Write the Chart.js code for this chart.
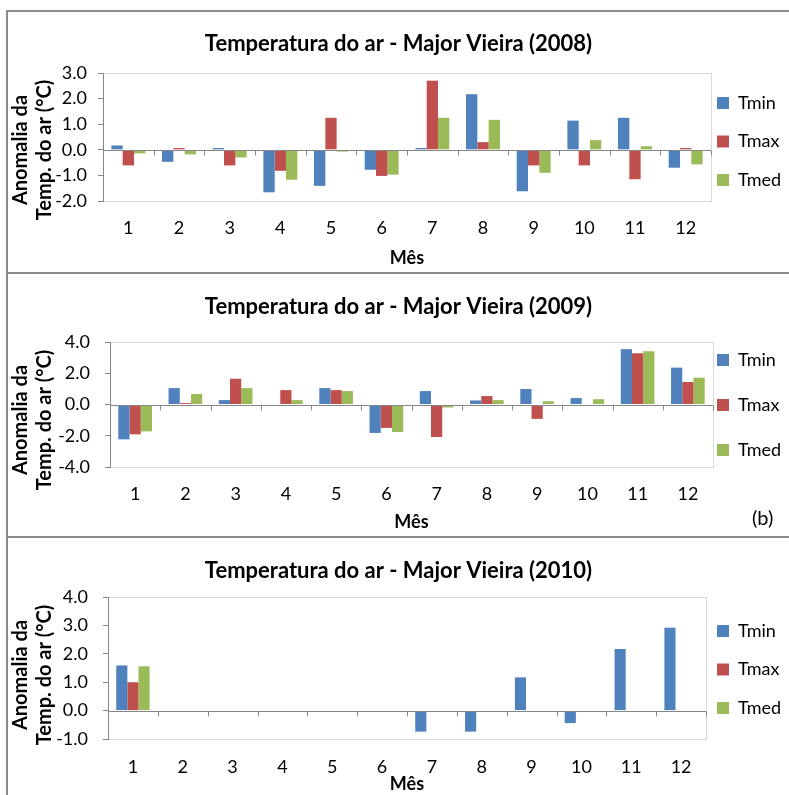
<!DOCTYPE html>
<html>
<head>
<meta charset="utf-8">
<script src="https://cdn.jsdelivr.net/npm/chart.js@4.4.1/dist/chart.umd.min.js"></script>
<style>
  body { margin: 0; background: #fff; width: 789px; height: 795px; overflow: hidden; position: relative; font-family: Lato, sans-serif; }
  .panel { position: absolute; left: 6px; width: 800px; box-sizing: border-box; border-top: 2px solid #8c8c8c; border-left: 2px solid #8c8c8c; }
  canvas { position: absolute; left: 8px; }
  #tag { position: absolute; left: 752px; top: 505px; font: 20px Lato, sans-serif; color: #000; }
</style>
</head>
<body>
<div class="panel" style="top:10px;height:262px"></div>
<div class="panel" style="top:272px;height:264px"></div>
<div class="panel" style="top:536px;height:300px"></div>
<canvas id="c2008" width="781" height="260" style="top:12px"></canvas>
<canvas id="c2009" width="781" height="262" style="top:274px"></canvas>
<canvas id="c2010" width="781" height="257" style="top:538px"></canvas>
<div id="tag">(b)</div>

<script>
// months on the category axis
const months = ['1', '2', '3', '4', '5', '6', '7', '8', '9', '10', '11', '12'];
const seriesNames = ['Tmin', 'Tmax', 'Tmed'];

// 2008 anomalies (°C)
const tmin2008 = [0.17, -0.47, 0.07, -1.66, -1.41, -0.78, 0.07, 2.17, -1.62, 1.14, 1.25, -0.70];
const tmax2008 = [-0.61, 0.07, -0.61, -0.82, 1.25, -1.02, 2.70, 0.30, -0.61, -0.61, -1.15, 0.07];
const tmed2008 = [-0.14, -0.18, -0.30, -1.17, -0.07, -0.97, 1.25, 1.17, -0.90, 0.38, 0.14, -0.57];

// 2009 anomalies (°C)
const tmin2009 = [-2.23, 1.05, 0.28, 0.00, 1.05, -1.82, 0.86, 0.26, 0.99, 0.41, 3.54, 2.36];
const tmax2009 = [-1.91, 0.09, 1.65, 0.92, 0.92, -1.50, -2.08, 0.54, -0.92, 0.00, 3.28, 1.44];
const tmed2009 = [-1.72, 0.67, 1.05, 0.28, 0.86, -1.76, -0.19, 0.28, 0.21, 0.34, 3.41, 1.72];

// 2010 anomalies (°C), only January has all three series
const tmin2010 = [1.59, null, null, null, null, null, -0.74, -0.74, 1.17, -0.44, 2.17, 2.92];
const tmax2010 = [1.00, null, null, null, null, null, null, null, null, null, null, null];
const tmed2010 = [1.56, null, null, null, null, null, null, null, null, null, null, null];

// y axis tick values
const ticks2008 = [-2, -1, 0, 1, 2, 3];
const ticks2009 = [-4, -2, 0, 2, 4];
const ticks2010 = [-1, 0, 1, 2, 3, 4];

const yTitleLines = ['Anomalia da', 'Temp. do ar (°C)'];
const colors = ['#4f81bd', '#c0504d', '#9bbb59'];
const FONT = 'Lato';

// light grey frame round the plot area
const plotFrame = {
  id: 'plotFrame',
  beforeDraw(chart) {
    const { ctx, chartArea: a } = chart;
    ctx.save();
    ctx.strokeStyle = '#d9d9d9';
    ctx.lineWidth = 1;
    ctx.strokeRect(a.left + 0.5, a.top + 0.5, a.right - a.left, a.bottom - a.top);
    ctx.restore();
  }
};

// category axis crossing at zero, with tick marks between months
const zeroAxis = {
  id: 'zeroAxis',
  afterDatasetsDraw(chart) {
    const { ctx } = chart;
    const x = chart.scales.x, y = chart.scales.y;
    const y0 = Math.round(y.getPixelForValue(0)) + 0.5;
    const n = x.getLabels().length;
    ctx.save();
    ctx.strokeStyle = '#868686';
    ctx.lineWidth = 1;
    ctx.beginPath();
    ctx.moveTo(x.left, y0);
    ctx.lineTo(x.right, y0);
    for (let k = 0; k <= n; k++) {
      const px = Math.round(x.left + k * (x.right - x.left) / n) + 0.5;
      ctx.moveTo(px, y0);
      ctx.lineTo(px, y0 + 5);
    }
    ctx.stroke();
    ctx.restore();
  }
};

// two-line rotated title of the value axis, a bit below the plot centre
const yTitle = {
  id: 'yTitle',
  afterDraw(chart, args, opts) {
    const { ctx, chartArea: a } = chart;
    ctx.save();
    ctx.translate(opts.x, (a.top + a.bottom) / 2 + opts.dy);
    ctx.rotate(-Math.PI / 2);
    ctx.font = 'bold 20px ' + FONT;
    ctx.fillStyle = '#000';
    ctx.textAlign = 'center';
    ctx.textBaseline = 'middle';
    yTitleLines.forEach((t, i) => ctx.fillText(t, 0, i * 24));
    ctx.restore();
  }
};

// move the legend next to the plot like in the spreadsheet
const legendPlace = {
  id: 'legendPlace',
  afterLayout(chart, args, opts) {
    const lg = chart.legend;
    const pad = lg.options.labels.padding;
    lg.left = opts.boxX - pad;
    lg.right = chart.width;
    lg.top += opts.dy;
    lg.bottom += opts.dy;
  }
};

function buildChart(id, year, tmin, tmax, tmed, yTicks, L) {
  const cv = document.getElementById(id);
  const W = cv.width, H = cv.height;
  const [aLeft, aTop, aRight, aBottom] = L.area;
  const titleLH = 22 * 1.2;
  const titleTop = L.titleCenter - titleLH / 2;
  const data = {
    labels: months,
    datasets: [tmin, tmax, tmed].map((vals, i) => ({
      label: seriesNames[i],
      data: vals,
      backgroundColor: colors[i],
      borderWidth: 0,
      categoryPercentage: 0.67,
      barPercentage: 1.0
    }))
  };
  return new Chart(cv, {
    type: 'bar',
    data: data,
    options: {
      responsive: false,
      animation: false,
      devicePixelRatio: 1,
      layout: { padding: 0 },
      plugins: {
        title: {
          display: true,
          text: 'Temperatura do ar - Major Vieira (' + year + ')',
          color: '#000',
          font: { family: FONT, size: 22, weight: 'bold', lineHeight: 1.2 },
          padding: { top: titleTop, bottom: aTop - titleTop - titleLH }
        },
        legend: {
          position: 'right',
          maxWidth: W - aRight,
          labels: {
            boxWidth: 12,
            boxHeight: 12,
            padding: L.legendPad,
            color: '#000',
            font: { family: FONT, size: 18 }
          }
        },
        tooltip: { enabled: false },
        legendPlace: { boxX: L.legendX, dy: L.legendDy },
        yTitle: { x: 13, dy: L.yTitleDy }
      },
      scales: {
        x: {
          grid: { display: false, drawTicks: false },
          border: { display: false },
          ticks: { color: '#000', padding: L.xTickPad, font: { family: FONT, size: 18 } },
          title: {
            display: true,
            text: 'Mês',
            color: '#000',
            font: { family: FONT, size: 18, weight: 'bold', lineHeight: 1.2 },
            padding: { top: 0, bottom: L.xTitleBottom }
          },
          afterFit(s) { s.height = H - aBottom; }
        },
        y: {
          min: yTicks[0],
          max: yTicks[yTicks.length - 1],
          grid: { drawOnChartArea: false, drawTicks: true, tickLength: 5, color: '#868686' },
          border: { display: true, color: '#868686' },
          ticks: {
            stepSize: yTicks[1] - yTicks[0],
            color: '#000',
            padding: L.yTickPad,
            font: { family: FONT, size: 18 },
            callback: v => v.toFixed(1)
          },
          title: { display: false },
          afterFit(s) { s.width = aLeft; }
        }
      }
    },
    plugins: [plotFrame, zeroAxis, yTitle, legendPlace]
  });
}

buildChart('c2008', 2008, tmin2008, tmax2008, tmed2008, ticks2008, {
  area: [95, 61, 703, 189], titleCenter: 32, legendPad: 20.5, legendX: 709, legendDy: -0.5,
  xTickPad: 16, xTitleBottom: 3, yTickPad: 11, yTitleDy: 13
});
buildChart('c2009', 2009, tmin2009, tmax2009, tmed2009, ticks2009, {
  area: [102, 68, 705, 193], titleCenter: 33, legendPad: 27, legendX: 709, legendDy: 0,
  xTickPad: 16, xTitleBottom: 3, yTickPad: 15, yTitleDy: 15.5
});
buildChart('c2010', 2010, tmin2010, tmax2010, tmed2010, ticks2010, {
  area: [100, 59, 698, 201], titleCenter: 33, legendPad: 20.5, legendX: 709, legendDy: 3,
  xTickPad: 17, xTitleBottom: 0, yTickPad: 15, yTitleDy: 7
});
</script>
</body>
</html>
